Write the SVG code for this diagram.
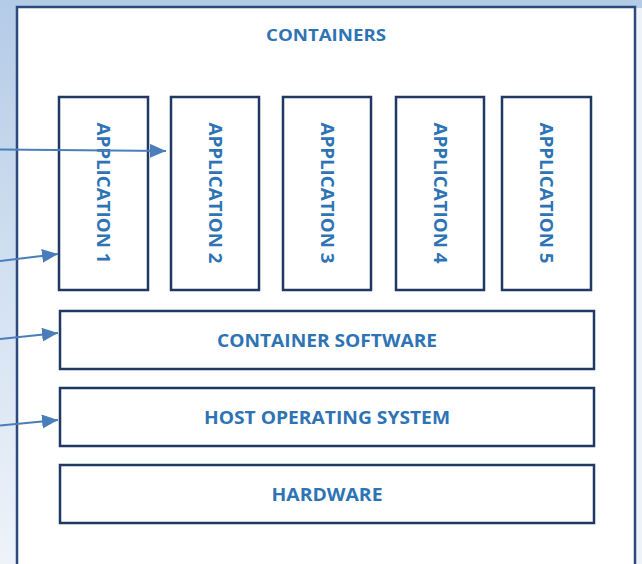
<svg xmlns="http://www.w3.org/2000/svg" width="642" height="564" viewBox="0 0 642 564">
  <defs>
    <linearGradient id="bg" x1="0" y1="0" x2="0" y2="1">
      <stop offset="0" stop-color="#b4cbe6"/>
      <stop offset="0.5" stop-color="#d3e1f1"/>
      <stop offset="1" stop-color="#eef3fa"/>
    </linearGradient>
    <marker id="ah" markerUnits="userSpaceOnUse" markerWidth="17" markerHeight="15" refX="16" refY="7" orient="auto">
      <path d="M0,0 L16,7 L0,14 z" fill="#4a7ebb"/>
    </marker>
    <style>
      .box { fill: #ffffff; stroke: #1f3864; stroke-width: 2.5; }
      .outer { fill: #ffffff; stroke: #2b4a7e; stroke-width: 2.5; }
      .lbl { font-family: "Open Sans", "Liberation Sans", Arial, sans-serif; font-weight: bold; fill: #2e74b5; text-anchor: middle; }
      .conn { stroke: #4a7ebb; stroke-width: 2; fill: none; marker-end: url(#ah); }
    </style>
  </defs>

  <rect x="0" y="0" width="642" height="564" fill="url(#bg)"/>
  <rect x="636" y="8" width="6" height="556" fill="#eef3fa"/>

  <g id="containers">
    <rect class="outer" x="17" y="7" width="618" height="580"/>
    <text class="lbl" x="326" y="41" font-size="16" textLength="120" lengthAdjust="spacingAndGlyphs">CONTAINERS</text>
  </g>

  <g id="app1">
    <rect class="box" x="59" y="97" width="89" height="193"/>
    <text class="lbl" font-size="18" transform="translate(103.5,193) rotate(90)" y="6.4" textLength="141" lengthAdjust="spacingAndGlyphs">APPLICATION 1</text>
  </g>
  <g id="app2">
    <rect class="box" x="171" y="97" width="88" height="193"/>
    <text class="lbl" font-size="18" transform="translate(215,193) rotate(90)" y="6.4" textLength="141" lengthAdjust="spacingAndGlyphs">APPLICATION 2</text>
  </g>
  <g id="app3">
    <rect class="box" x="283" y="97" width="88" height="193"/>
    <text class="lbl" font-size="18" transform="translate(327,193) rotate(90)" y="6.4" textLength="141" lengthAdjust="spacingAndGlyphs">APPLICATION 3</text>
  </g>
  <g id="app4">
    <rect class="box" x="396" y="97" width="88" height="193"/>
    <text class="lbl" font-size="18" transform="translate(440,193) rotate(90)" y="6.4" textLength="141" lengthAdjust="spacingAndGlyphs">APPLICATION 4</text>
  </g>
  <g id="app5">
    <rect class="box" x="502" y="97" width="89" height="193"/>
    <text class="lbl" font-size="18" transform="translate(546.5,193) rotate(90)" y="6.4" textLength="141" lengthAdjust="spacingAndGlyphs">APPLICATION 5</text>
  </g>

  <g id="container-software">
    <rect class="box" x="60" y="311" width="534" height="58"/>
    <text class="lbl" x="327" y="347" font-size="18" textLength="220" lengthAdjust="spacingAndGlyphs">CONTAINER SOFTWARE</text>
  </g>
  <g id="host-os">
    <rect class="box" x="60" y="388" width="534" height="58"/>
    <text class="lbl" x="327" y="424" font-size="18" textLength="246" lengthAdjust="spacingAndGlyphs">HOST OPERATING SYSTEM</text>
  </g>
  <g id="hardware">
    <rect class="box" x="60" y="465" width="534" height="58"/>
    <text class="lbl" x="327" y="501" font-size="18" textLength="111" lengthAdjust="spacingAndGlyphs">HARDWARE</text>
  </g>

  <g id="connectors">
    <line class="conn" x1="0" y1="149.5" x2="166" y2="151"/>
    <line class="conn" x1="0" y1="261" x2="58" y2="254"/>
    <line class="conn" x1="0" y1="339" x2="58" y2="333"/>
    <line class="conn" x1="0" y1="425.5" x2="58" y2="420"/>
  </g>
</svg>
